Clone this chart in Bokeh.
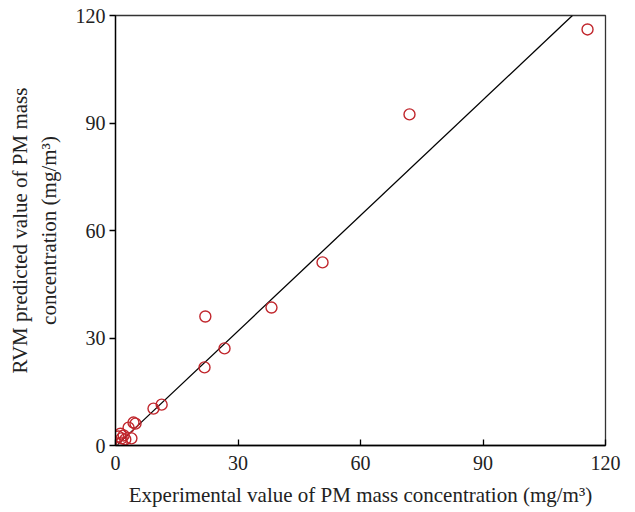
from bokeh.plotting import figure
from bokeh.models import FixedTicker, Range1d
from bokeh.embed import file_html
from bokeh.resources import INLINE

# Experimental vs RVM predicted PM mass concentration (mg/m^3)
experimental = [115.6, 72.0, 50.7, 38.2, 22.0, 26.7, 21.8, 11.3, 9.3,
                4.9, 4.4, 3.2, 1.2, 2.0, 1.5, 2.4, 3.9, 0.7, 1.5]
predicted = [116.1, 92.4, 51.1, 38.5, 36.0, 27.1, 21.8, 11.4, 10.3,
             6.1, 6.4, 5.0, 3.3, 2.8, 2.0, 1.7, 2.0, 2.5, 0.8]

# fitted line
fit_slope = 1.075
fit_intercept = -0.3
fit_x = [0.5, 111.9]
fit_y = [fit_slope * v + fit_intercept for v in fit_x]

ticks = [0, 30, 60, 90, 120]
font = "Liberation Serif"

p = figure(width=635, height=512, output_backend="svg", toolbar_location=None,
           x_range=Range1d(0, 120), y_range=Range1d(0, 120),
           min_border_left=115, min_border_right=30, min_border_top=15,
           min_border_bottom=67)

p.line(fit_x, fit_y, line_color="black", line_width=1.3)
p.scatter(experimental, predicted, size=11, fill_color=None,
          line_color="#c1272d", line_width=1.4)

p.xgrid.visible = False
p.ygrid.visible = False
p.outline_line_color = "#333333"
p.outline_line_width = 1.3
p.background_fill_color = "white"
p.border_fill_color = "white"

for ax in (p.xaxis[0], p.yaxis[0]):
    ax.ticker = FixedTicker(ticks=ticks)
    ax.minor_tick_line_color = None
    ax.axis_line_color = "black"
    ax.axis_line_width = 1.3
    ax.major_tick_line_color = "black"
    ax.major_tick_line_width = 1.3
    ax.major_label_text_font = font
    ax.major_label_text_font_size = "20px"
    ax.major_label_text_color = "#222222"
    ax.axis_label_text_font = font
    ax.axis_label_text_font_size = "21px"
    ax.axis_label_text_font_style = "normal"
    ax.axis_label_text_color = "#222222"

p.xaxis[0].major_tick_in = 6
p.xaxis[0].major_tick_out = 0
p.xaxis[0].major_label_standoff = 10
p.xaxis[0].axis_label_standoff = 10
p.xaxis[0].axis_label = "Experimental value of PM mass concentration (mg/m³)"

p.yaxis[0].major_tick_in = 0
p.yaxis[0].major_tick_out = 6
p.yaxis[0].major_label_standoff = 4
p.yaxis[0].axis_label_standoff = 12
p.yaxis[0].axis_label = "RVM predicted value of PM mass\nconcentration (mg/m³)"

open("out.html", "w").write(file_html(p, INLINE))
